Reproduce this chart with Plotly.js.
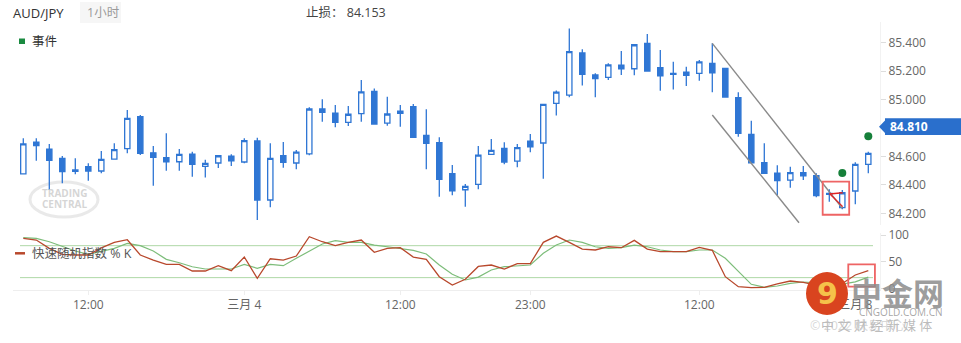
<!DOCTYPE html>
<html>
<head>
<meta charset="utf-8">
<script src="https://cdn.plot.ly/plotly-3.0.1.min.js"></script>
<style>html,body{margin:0;padding:0;background:#fff;}#chart{width:961px;height:343px;}</style>
</head>
<body>
<div id="chart"></div>
<script>
// ---- data (hourly AUD/JPY candles) ----
const openP = [84.477,84.700,84.652,84.587,84.505,84.528,84.498,84.582,84.655,84.880,
84.626,84.591,84.563,84.617,84.531,84.554,84.603,84.561,84.709,84.294,
84.605,84.554,84.619,84.934,84.904,84.840,84.901,85.058,84.835,84.904,
84.950,84.749,84.697,84.479,84.366,84.404,84.615,84.657,84.568,84.707,
84.695,84.974,85.032,85.328,85.173,85.157,85.243,85.217,85.396,85.224,
85.185,85.194,85.185,85.255,85.220,85.013,84.756,84.556,84.482,84.434,
84.486,84.465,84.340,84.240,84.357,84.545];
const highP = [84.728,84.728,84.688,84.603,84.587,84.552,84.638,84.693,84.927,84.892,
84.674,84.763,84.652,84.633,84.577,84.608,84.615,84.728,84.732,84.693,
84.702,84.645,84.946,85.002,84.962,84.955,85.138,85.079,85.020,84.962,
84.969,84.932,84.735,84.540,84.406,84.674,84.723,84.700,84.688,84.758,
84.967,85.065,85.501,85.354,85.185,85.255,85.342,85.391,85.461,85.349,
85.266,85.231,85.278,85.396,85.220,85.051,84.851,84.693,84.538,84.528,
84.533,84.482,84.369,84.364,84.559,84.633];
const lowP = [84.475,84.570,84.364,84.411,84.475,84.430,84.482,84.580,84.622,84.610,
84.394,84.500,84.500,84.458,84.453,84.519,84.533,84.552,84.153,84.242,
84.521,84.510,84.608,84.844,84.805,84.814,84.844,84.826,84.816,84.809,
84.733,84.510,84.317,84.327,84.247,84.369,84.613,84.545,84.524,84.629,
84.444,84.889,85.016,85.100,85.016,85.138,85.173,85.171,85.196,85.062,
85.072,85.096,85.133,85.051,85.013,84.739,84.552,84.477,84.327,84.380,
84.434,84.313,84.282,84.228,84.264,84.482];
const closeP = [84.688,84.676,84.573,84.493,84.496,84.498,84.580,84.648,84.868,84.622,
84.594,84.563,84.615,84.545,84.552,84.605,84.570,84.711,84.294,84.587,
84.559,84.631,84.934,84.911,84.840,84.897,85.055,84.828,84.899,84.918,
84.735,84.693,84.439,84.359,84.390,84.610,84.643,84.561,84.662,84.667,
84.967,85.053,85.337,85.178,85.147,85.245,85.217,85.386,85.201,85.168,
85.178,85.171,85.266,85.189,85.018,84.763,84.556,84.482,84.430,84.486,
84.463,84.324,84.334,84.345,84.545,84.622];
const stochK = [93.8,90.6,75,63.8,62.5,62.5,76,86.3,91.2,62.5,
53,45,45,32.5,32.5,42.4,33,58.7,18.8,55.5,
53,60.6,96.8,87.4,80,86.3,90.6,67.5,75,76.2,
58.7,54.4,21.8,6.2,16.9,41,43.7,36.2,46.2,46.2,
86.3,98.1,86.3,73.7,71.9,78,76.2,90,73.7,68.7,
68.7,68.7,76.9,71.3,21.8,3,1.1,1.9,8.1,13.7,
11.2,6,5,9,25,33];
const stochD = [95,93.8,87.4,78,70,63.8,68.7,75,84.4,80,
70,54.4,48,40.5,36.2,36.2,36.2,45,37.5,45,
42.4,56.3,70,83.1,89.3,86.3,86.3,81.2,78,75,
71.3,64.4,43.7,26.3,15.6,21,34.3,40.5,42.4,43.7,
65.7,81.2,90.6,86.3,78,75,76.2,81.2,78,71.9,
68.7,68.7,71.9,71.9,56.3,31.1,7.5,1.9,4.3,9.4,
11.8,10,7,8,12,21];
const tickIdx = [5,17,29,39,52,64];
const tickText = ['12:00','三月 4','12:00','23:00','12:00','三月 8'];
const priceTicks = [84.2,84.4,84.6,85.0,85.2,85.4];
const stochTicks = [0,50,100];
const eventIdx = [63,65];
const eventPrice = [84.484,84.742];
const chanUpX = [53,63];
const chanUpY = [85.396,84.236];
const chanLoX = [53,59.67];
const chanLoY = [84.892,84.134];
const markHX = [62.0,63.03], markHY = [84.336,84.345];
const markDX = [62.05,63.03], markDY = [84.336,84.247];
const lastPrice = 84.810;
const stopLoss = '84.153';
const symbol = 'AUD/JPY';
const period = '1小时';

// ---- layout helpers (pixel -> paper) ----
const W = 961, H = 343;
const px = x => x / W;
const py = y => 1 - y / H;
const idx = openP.map((_, i) => i);
const FONT = "'Open Sans', 'Noto Sans CJK SC', sans-serif";
const BLUE = '#2f76d4';

const traces = [
  {type:'candlestick', x: idx, open: openP, high: highP, low: lowP, close: closeP,
   xaxis:'x', yaxis:'y', hoverinfo:'skip', whiskerwidth:0,
   increasing:{line:{color:BLUE, width:1.3}, fillcolor:'#ffffff'},
   decreasing:{line:{color:BLUE, width:1.3}, fillcolor:BLUE}},
  {type:'scatter', mode:'lines', x: chanUpX, y: chanUpY, xaxis:'x', yaxis:'y',
   line:{color:'#8a8a8a', width:1.4}, hoverinfo:'skip'},
  {type:'scatter', mode:'lines', x: chanLoX, y: chanLoY, xaxis:'x', yaxis:'y',
   line:{color:'#8a8a8a', width:1.4}, hoverinfo:'skip'},
  {type:'scatter', mode:'lines', x: markHX, y: markHY, xaxis:'x', yaxis:'y',
   line:{color:'#e02424', width:1.3}, hoverinfo:'skip'},
  {type:'scatter', mode:'lines', x: markDX, y: markDY, xaxis:'x', yaxis:'y',
   line:{color:'#e02424', width:1.3}, hoverinfo:'skip'},
  {type:'scatter', mode:'markers', x: eventIdx, y: eventPrice, xaxis:'x', yaxis:'y',
   marker:{color:'#16803a', size:8}, hoverinfo:'skip'},
  {type:'scatter', mode:'lines', x: idx, y: stochD, xaxis:'x', yaxis:'y2',
   line:{color:'#7dbd7a', width:1.2}, hoverinfo:'skip'},
  {type:'scatter', mode:'lines', x: idx, y: stochK, xaxis:'x', yaxis:'y2',
   line:{color:'#b8482c', width:1.3}, hoverinfo:'skip'}
];

const x0 = 23.3, step = 13;
const layout = {
  width: W, height: H,
  margin:{l:0, r:0, t:0, b:0},
  paper_bgcolor:'#fff', plot_bgcolor:'rgba(0,0,0,0)',
  showlegend:false,
  font:{family:FONT, size:12, color:'#666'},
  boxgap:0.42,
  xaxis:{domain:[px(13), px(880)], range:[(13-x0)/step, (880-x0)/step],
    anchor:'y2', rangeslider:{visible:false}, showgrid:false, zeroline:false,
    showline:true, linecolor:'#eeeeee', linewidth:1,
    ticks:'outside', ticklen:4, tickcolor:'#eeeeee',
    tickvals:tickIdx, ticktext:tickText, tickfont:{size:12, color:'#666'}},
  yaxis:{domain:[py(225), py(22)], range:[84.118, 85.546], side:'right', anchor:'x',
    showgrid:false, zeroline:false, showline:true, linecolor:'#f2f2f2',
    ticks:'outside', ticklen:5, tickcolor:'#dddddd',
    tickvals:priceTicks, tickformat:'.3f', tickfont:{size:12, color:'#666'}},
  yaxis2:{domain:[py(290), py(233)], range:[-3.2, 103.8], side:'right', anchor:'x',
    showgrid:false, zeroline:false, showline:true, linecolor:'#f2f2f2',
    ticks:'outside', ticklen:5, tickcolor:'#dddddd',
    tickvals:stochTicks, tickfont:{size:12, color:'#666'}},
  shapes:[
    {type:'rect', xref:'paper', yref:'paper', x0:px(80), x1:px(121), y0:py(23), y1:py(2),
     fillcolor:'#f6f6f6', line:{width:0}, layer:'below'},
    {type:'rect', xref:'paper', yref:'paper', x0:px(19), x1:px(25), y0:py(44), y1:py(38.5),
     fillcolor:'#1a8a40', line:{width:0}},
    {type:'line', xref:'paper', yref:'y2', x0:px(20), x1:px(873), y0:80, y1:80,
     line:{color:'#aed8a6', width:1}, layer:'below'},
    {type:'line', xref:'paper', yref:'y2', x0:px(20), x1:px(873), y0:20, y1:20,
     line:{color:'#aed8a6', width:1}, layer:'below'},
    {type:'rect', xref:'x', yref:'y', x0:61.49, x1:63.53, y0:84.190, y1:84.4225,
     line:{color:'#ee6464', width:1.8}},
    {type:'rect', xref:'x', yref:'y2', x0:63.46, x1:65.51, y0:3, y1:45,
     line:{color:'#ee6464', width:1.8}},
    {type:'line', xref:'paper', yref:'paper', x0:px(15), x1:px(25), y0:py(253.3), y1:py(253.3),
     line:{color:'#b8482c', width:2.5}},
    {type:'path', xref:'paper', yref:'paper',
     path:`M ${px(879)},${py(126.7)} L ${px(885)},${py(120.5)} L ${px(885)},${py(118.3)} L ${px(961)},${py(118.3)} L ${px(961)},${py(135)} L ${px(885)},${py(135)} L ${px(885)},${py(132.9)} Z`,
     fillcolor:'#2a6fcc', line:{width:0}},
    {type:'circle', xref:'paper', yref:'paper', x0:px(30), x1:px(98), y0:py(217), y1:py(182),
     line:{color:'rgba(200,200,200,0.4)', width:3}, layer:'below'},
    {type:'circle', xref:'paper', yref:'paper', x0:px(806), x1:px(848), y0:py(315), y1:py(272),
     fillcolor:'#d9441f', line:{width:0}}
  ],
  annotations:[
    {xref:'paper', yref:'paper', x:px(11), y:py(13), xanchor:'left', yanchor:'middle',
     text:symbol, showarrow:false, font:{size:13, color:'#333'}},
    {xref:'paper', yref:'paper', x:px(85), y:py(13), xanchor:'left', yanchor:'middle',
     text:period, showarrow:false, font:{size:12.5, color:'#9a9a9a'}},
    {xref:'paper', yref:'paper', x:px(304), y:py(13), xanchor:'left', yanchor:'middle',
     text:'止损： ' + stopLoss, showarrow:false, font:{size:12.5, color:'#444'}},
    {xref:'paper', yref:'paper', x:px(30), y:py(41), xanchor:'left', yanchor:'middle',
     text:'事件', showarrow:false, font:{size:12.5, color:'#333'}},
    {xref:'paper', yref:'paper', x:px(30), y:py(253.5), xanchor:'left', yanchor:'middle',
     text:'快速随机指数 % K', showarrow:false, font:{size:12.5, color:'#555'}},
    {xref:'paper', yref:'y', x:px(888), y:lastPrice, xanchor:'left', yanchor:'middle',
     text:'<b>' + lastPrice.toFixed(3) + '</b>', showarrow:false, font:{size:12, color:'#fff'}},
    {xref:'paper', yref:'paper', x:px(64), y:py(193), xanchor:'center', yanchor:'middle',
     text:'<b>TRADING</b>', showarrow:false, font:{size:10, color:'rgba(200,200,200,0.75)'}},
    {xref:'paper', yref:'paper', x:px(64), y:py(204), xanchor:'center', yanchor:'middle',
     text:'<b>CENTRAL</b>', showarrow:false, font:{size:10, color:'rgba(200,200,200,0.75)'}},
    {xref:'paper', yref:'paper', x:px(827), y:py(293), xanchor:'center', yanchor:'middle',
     text:'<b>9</b>', showarrow:false, font:{size:30, color:'#f5c24a', family:'DejaVu Sans'}},
    {xref:'paper', yref:'paper', x:px(897), y:py(291), xanchor:'center', yanchor:'middle',
     text:'<b>中金网</b>', showarrow:false, font:{size:31, color:'rgba(140,140,140,0.85)', family:'Noto Sans CJK SC'}},
    {xref:'paper', yref:'paper', x:px(901), y:py(312), xanchor:'center', yanchor:'middle',
     text:'CNGOLD.COM.CN', showarrow:false, font:{size:10, color:'rgba(150,150,150,0.85)'}},
    {xref:'paper', yref:'paper', x:px(876), y:py(325), xanchor:'center', yanchor:'middle',
     text:'中 文 财 经 新 媒 体', showarrow:false, font:{size:13, color:'rgba(170,170,170,0.8)'}},
    {xref:'paper', yref:'paper', x:px(808), y:py(325), xanchor:'left', yanchor:'middle',
     text:'© 2022 快易中心', showarrow:false, font:{size:12.5, color:'rgba(190,190,190,0.6)'}}
  ]
};

Plotly.newPlot('chart', traces, layout, {staticPlot:true, displayModeBar:false});
</script>
</body>
</html>
